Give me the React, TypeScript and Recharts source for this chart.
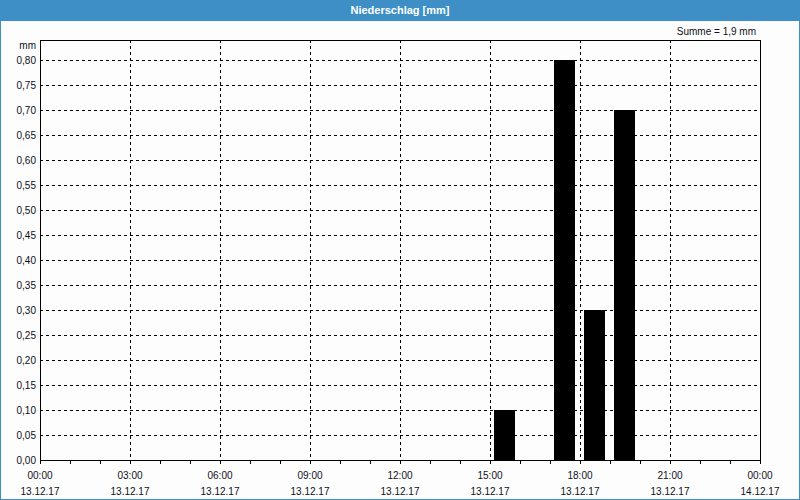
import React from 'react';
import { BarChart, Bar, XAxis, YAxis, CartesianGrid, ReferenceArea } from 'recharts';

// Hour of day (bar centre) and precipitation in mm
const hours = [15.45, 17.45, 18.45, 19.45];
const precip = [0.1, 0.8, 0.3, 0.7];

const hourTicks = [0, 1, 2, 3, 4, 5, 6, 7, 8, 9, 10, 11, 12, 13, 14, 15, 16, 17, 18, 19, 20, 21, 22, 23, 24];
const labelHours = [0, 3, 6, 9, 12, 15, 18, 21, 24];
const labelTimes = ['00:00', '03:00', '06:00', '09:00', '12:00', '15:00', '18:00', '21:00', '00:00'];
const labelDates = ['13.12.17', '13.12.17', '13.12.17', '13.12.17', '13.12.17', '13.12.17', '13.12.17', '13.12.17', '14.12.17'];
const yTicks = [0, 0.05, 0.1, 0.15, 0.2, 0.25, 0.3, 0.35, 0.4, 0.45, 0.5, 0.55, 0.6, 0.65, 0.7, 0.75, 0.8];
const yMax = 0.84;

const titleText = 'Niederschlag [mm]';
const sumText = 'Summe = 1,9 mm';
const unitText = 'mm';

const data = hours.map((h, i) => ({ h, v: precip[i] }));

const FONT = '"Liberation Sans", Arial, sans-serif';
const TEXT_COLOR = '#101020';

const XTick = (props: any) => {
  const { x, y, payload } = props;
  const idx = labelHours.indexOf(payload.value);
  if (idx < 0) return null;
  return (
    <g>
      <text x={x} y={y + 13} textAnchor="middle" fontSize={10} fontFamily={FONT} fill={TEXT_COLOR}>
        {labelTimes[idx]}
      </text>
      <text x={x} y={y + 29} textAnchor="middle" fontSize={10} fontFamily={FONT} fill={TEXT_COLOR}>
        {labelDates[idx]}
      </text>
    </g>
  );
};

export default function App() {
  return (
    <div style={{ position: 'absolute', left: 0, top: 0, width: 800, height: 500, background: '#fcfdfc', boxSizing: 'border-box', border: '1px solid #3d8fc6', fontFamily: FONT }}>
      <div style={{ position: 'absolute', left: -1, top: -1, width: 800, height: 21, background: '#3d8fc6', color: '#fff', fontSize: 11, fontWeight: 'bold', textAlign: 'center', lineHeight: '20px' }}>
        {titleText}
      </div>
      <div style={{ position: 'absolute', right: 43, top: 25, fontSize: 10, color: TEXT_COLOR }}>{sumText}</div>
      <div style={{ position: 'absolute', right: 763, top: 39, fontSize: 10, color: TEXT_COLOR }}>{unitText}</div>
      <div style={{ position: 'absolute', left: -1, top: -1, shapeRendering: 'crispEdges' } as any}>
        <BarChart width={800} height={500} data={data} margin={{ top: 40, right: 40, bottom: 0, left: 0 }}>
          <XAxis
            xAxisId="g"
            dataKey="h"
            type="number"
            domain={[0, 24]}
            ticks={labelHours}
            hide
          />
          <CartesianGrid xAxisId="g" stroke="#000" strokeDasharray="3 3" />
          <XAxis
            dataKey="h"
            type="number"
            domain={[0, 24]}
            ticks={hourTicks}
            interval={0}
            height={40}
            tickSize={4}
            tick={<XTick />}
            stroke="#000"
            axisLine={{ stroke: '#000' }}
            tickLine={{ stroke: '#000' }}
          />
          <YAxis
            type="number"
            domain={[0, yMax]}
            ticks={yTicks}
            width={40}
            tickLine={false}
            tickSize={0}
            axisLine={{ stroke: '#000' }}
            tickMargin={4}
            tick={{ fontSize: 10, fontFamily: FONT, fill: TEXT_COLOR }}
            tickFormatter={(v: number) => v.toFixed(2).replace('.', ',')}
            interval={0}
          />
          <ReferenceArea x1={0} x2={24} y1={0} y2={yMax} fill="none" stroke="#000" strokeOpacity={1} fillOpacity={0} />
          <Bar dataKey="v" fill="#000" barSize={21} isAnimationActive={false} />
        </BarChart>
      </div>
    </div>
  );
}
